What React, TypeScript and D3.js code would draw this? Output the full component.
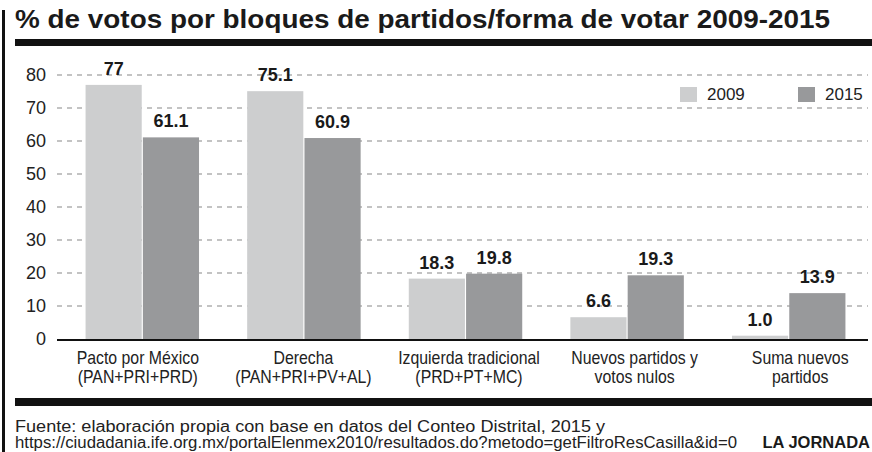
import React from "react";
import * as d3 from "d3";

const categories = ["Pacto por México", "Derecha", "Izquierda tradicional", "Nuevos partidos y votos nulos", "Suma nuevos partidos"];
const categoryLines = [
  ["Pacto por México", "(PAN+PRI+PRD)"],
  ["Derecha", "(PAN+PRI+PV+AL)"],
  ["Izquierda tradicional", "(PRD+PT+MC)"],
  ["Nuevos partidos y", "votos nulos"],
  ["Suma nuevos", "partidos"],
];
const seriesNames = ["2009", "2015"];
const values2009 = [77, 75.1, 18.3, 6.6, 1.0];
const values2015 = [61.1, 60.9, 19.8, 19.3, 13.9];
const valueLabels2009 = ["77", "75.1", "18.3", "6.6", "1.0"];
const valueLabels2015 = ["61.1", "60.9", "19.8", "19.3", "13.9"];
const yTicks = [0, 10, 20, 30, 40, 50, 60, 70, 80];

const title = "% de votos por bloques de partidos/forma de votar 2009-2015";
const source1 = "Fuente: elaboración propia con base en datos del Conteo Distrital, 2015 y";
const source2 = "https://ciudadania.ife.org.mx/portalElenmex2010/resultados.do?metodo=getFiltroResCasilla&id=0";
const brand = "LA JORNADA";

const W = 872;
const H = 452;
const colors = ["#cdcecf", "#98999b"];
const font = "'Liberation Sans', Arial, Helvetica, sans-serif";

export default function App() {
  const y = d3.scaleLinear().domain([0, 80]).range([339, 75]);
  const x0 = d3.scaleBand<string>().domain(categories).range([61.5, 869.5]).padding(0);
  const x1 = d3.scaleBand<string>().domain(seriesNames).range([0, x0.bandwidth()]).paddingInner(0.02).paddingOuter(0.42);
  const xLabel = d3.scaleBand<string>().domain(categories).range([55, 883]).padding(0);
  const seriesVals = [values2009, values2015];
  const seriesLabels = [valueLabels2009, valueLabels2015];

  return (
    <svg width={W} height={H} style={{ position: "absolute", left: 0, top: 0, background: "#fff" }} fontFamily={font}>
      <rect x={0} y={0} width={W} height={H} fill="#fff" />
      {/* left vertical bar */}
      <rect x={2} y={10} width={3} height={H - 10} fill="#111" />
      {/* title */}
      <text x={15} y={28} fontSize={26} fontWeight="bold" fill="#1a1a1a" textLength={815} lengthAdjust="spacingAndGlyphs">
        {title}
      </text>
      <rect x={15} y={39} width={W - 15} height={7} fill="#111" />

      {/* gridlines */}
      {yTicks.filter((t) => t > 0).map((t) => (
        <line key={"g" + t} x1={57} x2={868} y1={y(t)} y2={y(t)} stroke="#b0b0b0" strokeWidth={1.5} strokeDasharray="5,5" />
      ))}
      {/* tick labels */}
      {yTicks.map((t) => (
        <text key={"t" + t} x={46} y={y(t)} dy="0.36em" textAnchor="end" fontSize={18} fill="#222">
          {t}
        </text>
      ))}

      {/* bars */}
      {categories.map((c, i) => (
        <g key={c} transform={`translate(${x0(c)},0)`}>
          {seriesNames.map((s, j) => (
            <rect key={s} x={x1(s)} y={y(seriesVals[j][i])} width={x1.bandwidth()} height={y(0) - y(seriesVals[j][i])} fill={colors[j]} />
          ))}
          {seriesNames.map((s, j) => (
            <text key={"l" + s} x={(x1(s) as number) + x1.bandwidth() / 2} y={y(seriesVals[j][i]) - 10} textAnchor="middle" fontSize={18} fontWeight="bold" fill="#1a1a1a">
              {seriesLabels[j][i]}
            </text>
          ))}
        </g>
      ))}

      {/* axis baseline */}
      <line x1={57} x2={868} y1={340} y2={340} stroke="#111" strokeWidth={2} />

      {/* category labels (condensed) */}
      {categories.map((c, i) => (
        <g key={"c" + c} transform={`translate(${(xLabel(c) as number) + xLabel.bandwidth() / 2},0) scale(0.88,1)`}>
          <text x={0} y={364} textAnchor="middle" fontSize={18} fill="#222">{categoryLines[i][0]}</text>
          <text x={0} y={383} textAnchor="middle" fontSize={18} fill="#222">{categoryLines[i][1]}</text>
        </g>
      ))}

      {/* legend */}
      {seriesNames.map((s, j) => (
        <g key={"lg" + s} transform={`translate(${[680, 798][j]},87)`}>
          <rect x={0} y={0} width={17} height={15} fill={colors[j]} />
          <text x={27} y={13} fontSize={17} fill="#222">{s}</text>
        </g>
      ))}

      {/* bottom rule */}
      <rect x={15} y={398} width={W - 15} height={8} fill="#111" />

      {/* source */}
      <text x={15} y={432} fontSize={16} fill="#222" textLength={590} lengthAdjust="spacingAndGlyphs">{source1}</text>
      <text x={15} y={448} fontSize={16} fill="#222" textLength={722} lengthAdjust="spacingAndGlyphs">{source2}</text>
      <text x={870} y={448} fontSize={16.5} fontWeight="bold" fill="#1a1a1a" textAnchor="end">{brand}</text>
    </svg>
  );
}
